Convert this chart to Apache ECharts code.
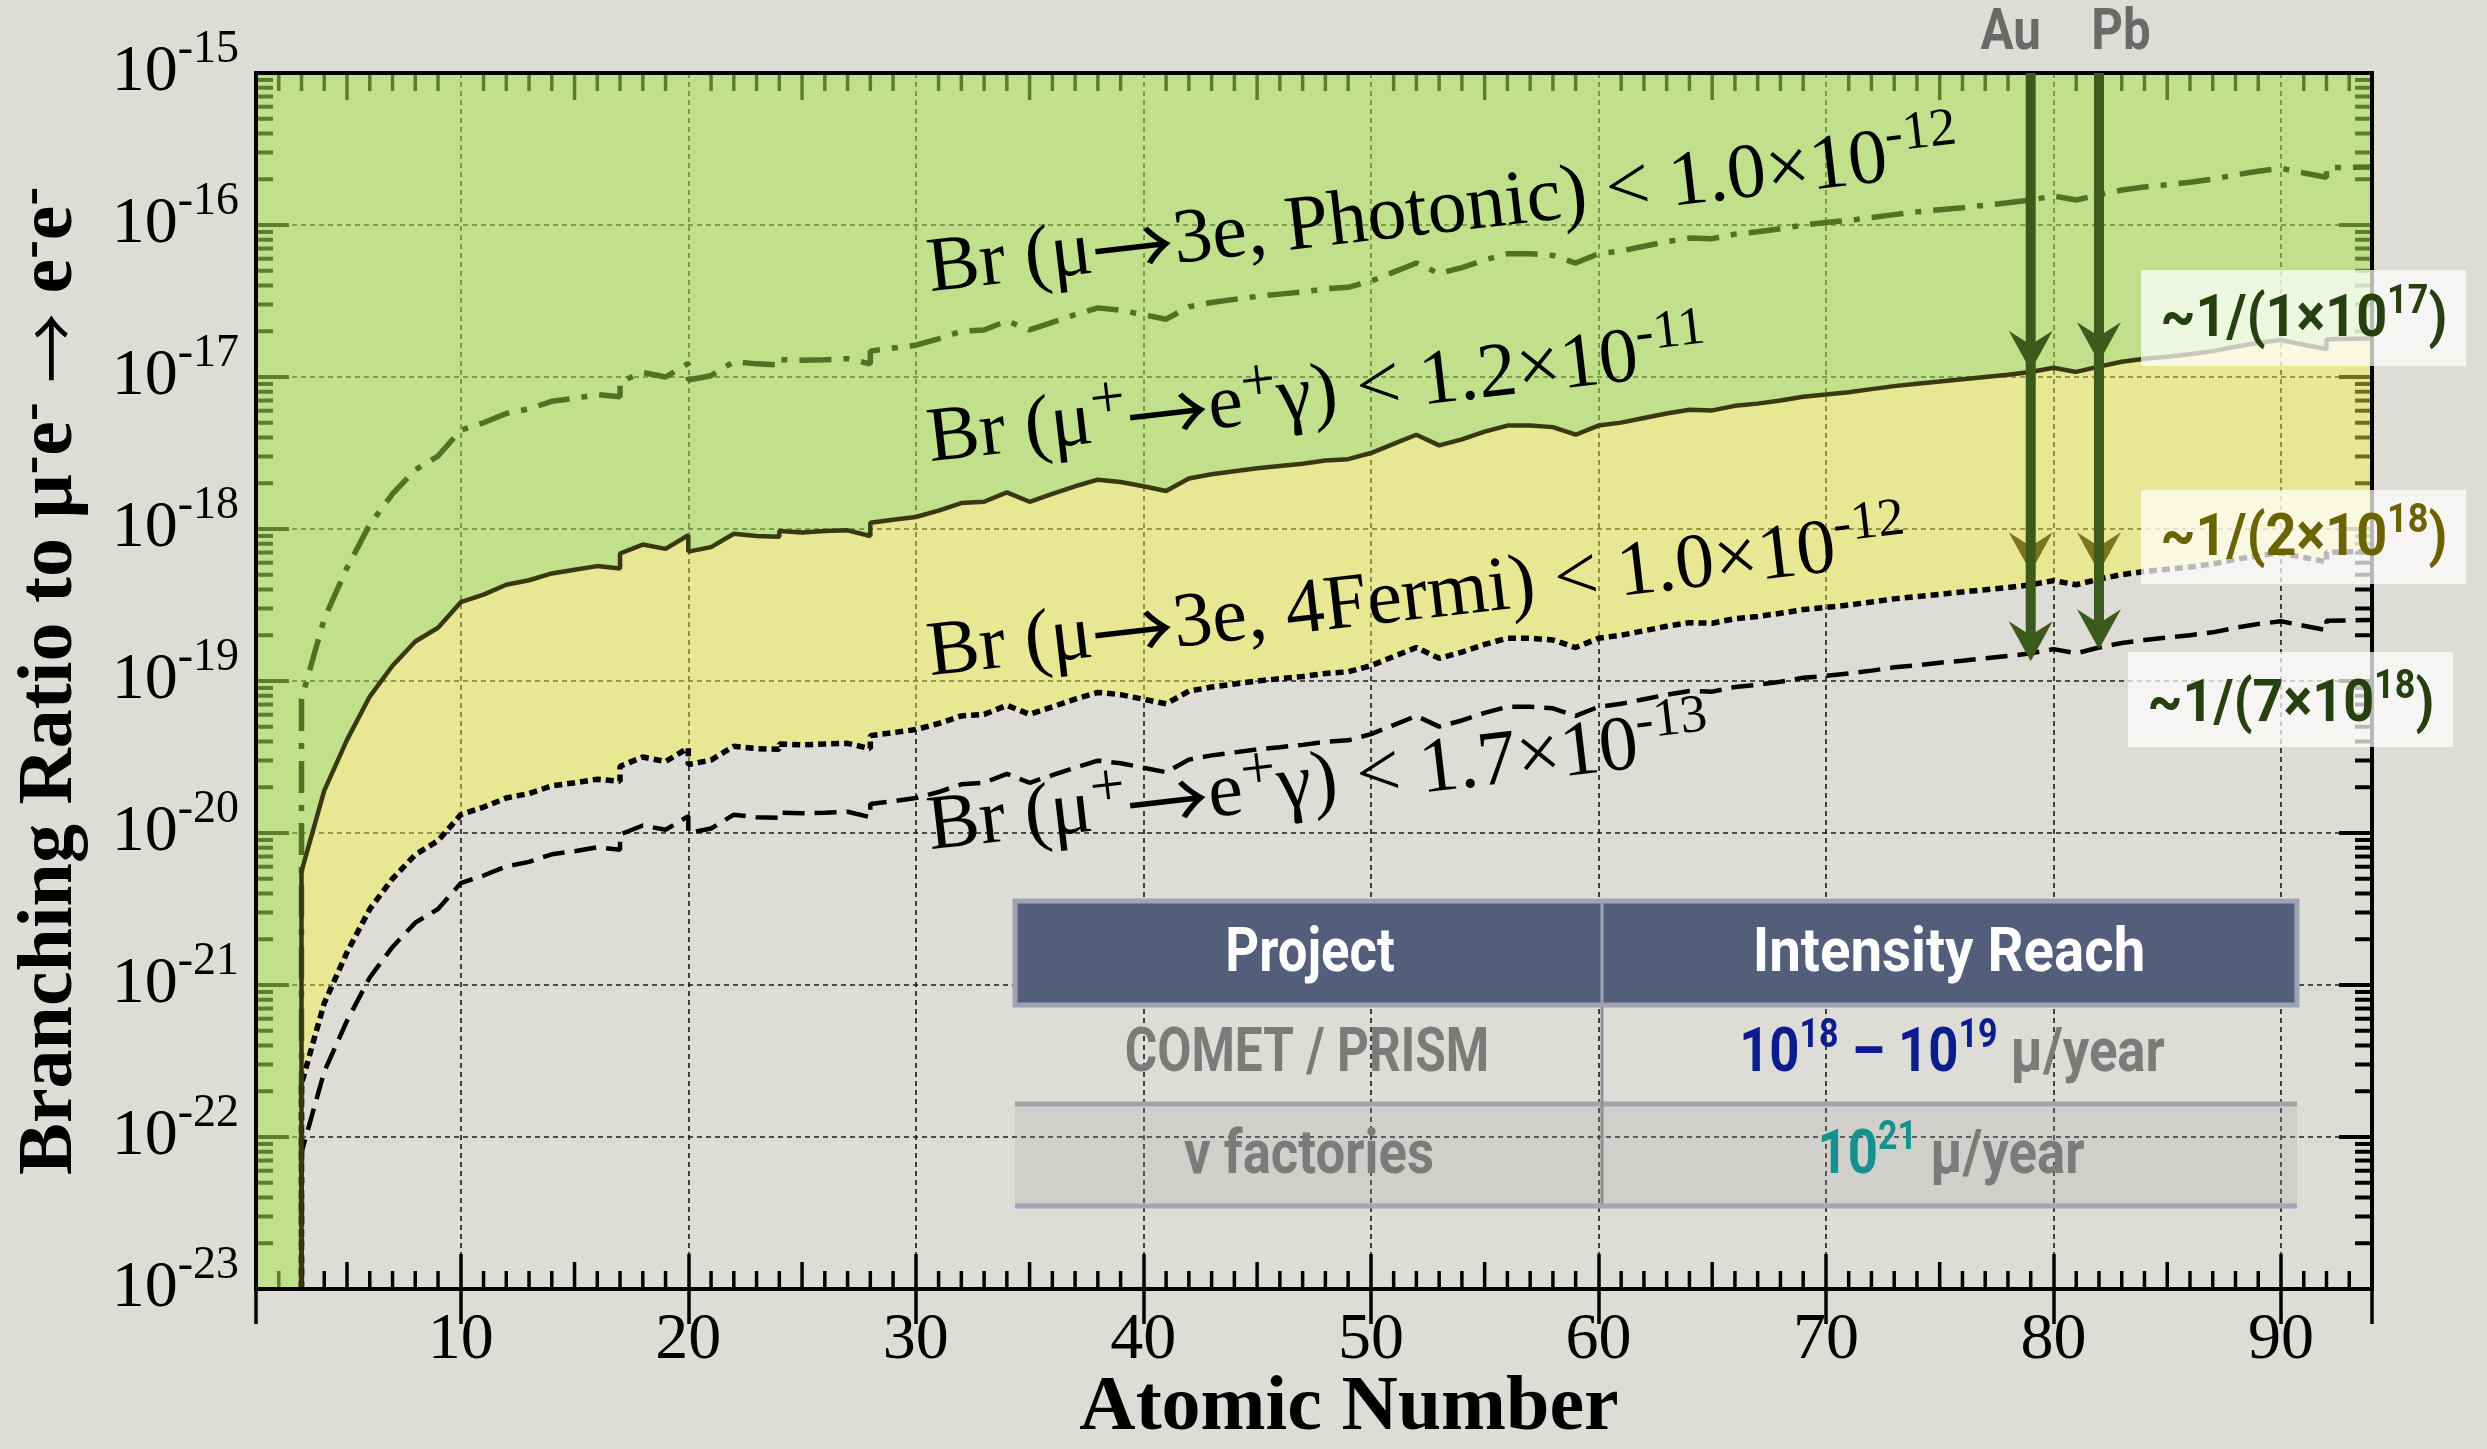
<!DOCTYPE html>
<html>
<head>
<meta charset="utf-8">
<script src="https://cdn.jsdelivr.net/npm/echarts@6/dist/echarts.min.js"></script>
<style>
html, body { margin:0; padding:0; background:#dddcd6; }
#chart { width:2487px; height:1449px; }
</style>
</head>
<body>
<div id="chart"></div>
<script>
// ---------------- data ----------------
const atomicNumber = [
  3, 3, 4, 5, 6, 7, 8, 9, 10,
  11, 12, 13, 14, 15, 16, 17, 17, 18, 19, 20, 20,
  21, 22, 23, 24, 24, 25, 26, 27, 28, 28, 29, 30,
  31, 32, 33, 34, 35, 36, 37, 38, 39, 40,
  41, 42, 43, 44, 45, 46, 47, 48, 49, 50,
  51, 52, 53, 54, 55, 56, 57, 58, 59, 60,
  61, 62, 63, 64, 65, 66, 67, 68, 69, 70,
  71, 72, 73, 74, 75, 76, 77, 78, 79, 80,
  81, 82, 83, 84, 85, 86, 87, 88, 89, 90,
  91, 92, 92, 94
];
// Br(mu+ -> e+ gamma) < 1.2e-11  (solid)
const brMegNow = [
  1e-23, 5.6e-21, 1.9e-20, 4.1e-20, 7.9e-20, 1.26e-19, 1.82e-19, 2.24e-19, 3.3e-19,
  3.7e-19, 4.3e-19, 4.6e-19, 5.1e-19, 5.4e-19, 5.7e-19, 5.5e-19, 6.9e-19, 7.9e-19, 7.4e-19, 9.1e-19, 7.1e-19,
  7.6e-19, 9.3e-19, 9.0e-19, 8.9e-19, 9.7e-19, 9.5e-19, 9.7e-19, 9.8e-19, 9.0e-19, 1.10e-18, 1.15e-18, 1.20e-18,
  1.32e-18, 1.48e-18, 1.51e-18, 1.74e-18, 1.51e-18, 1.70e-18, 1.91e-18, 2.11e-18, 2.04e-18, 1.91e-18,
  1.78e-18, 2.15e-18, 2.29e-18, 2.40e-18, 2.51e-18, 2.60e-18, 2.69e-18, 2.82e-18, 2.88e-18, 3.16e-18,
  3.63e-18, 4.17e-18, 3.55e-18, 3.89e-18, 4.37e-18, 4.79e-18, 4.79e-18, 4.68e-18, 4.17e-18, 4.79e-18,
  5.01e-18, 5.37e-18, 5.75e-18, 6.08e-18, 6.03e-18, 6.46e-18, 6.68e-18, 7.00e-18, 7.41e-18, 7.67e-18,
  7.94e-18, 8.32e-18, 8.71e-18, 9.02e-18, 9.33e-18, 9.66e-18, 1.00e-17, 1.035e-17, 1.08e-17, 1.15e-17,
  1.08e-17, 1.17e-17, 1.26e-17, 1.32e-17, 1.36e-17, 1.41e-17, 1.48e-17, 1.58e-17, 1.68e-17, 1.75e-17,
  1.63e-17, 1.53e-17, 1.77e-17, 1.79e-17
];
// Br(mu -> 3e, Photonic) < 1.0e-12  (dash-dot)
const brPhotonic = [
  1e-23, 7.6e-20, 2.57e-19, 5.56e-19, 1.07e-18, 1.70e-18, 2.45e-18, 3.02e-18, 4.47e-18,
  5.0e-18, 5.75e-18, 6.17e-18, 6.92e-18, 7.24e-18, 7.67e-18, 7.41e-18, 9.33e-18, 1.07e-17, 1.00e-17, 1.23e-17, 9.55e-18,
  1.02e-17, 1.26e-17, 1.22e-17, 1.20e-17, 1.30e-17, 1.29e-17, 1.30e-17, 1.32e-17, 1.22e-17, 1.48e-17, 1.55e-17, 1.62e-17,
  1.78e-17, 2.00e-17, 2.04e-17, 2.34e-17, 2.04e-17, 2.29e-17, 2.57e-17, 2.85e-17, 2.75e-17, 2.57e-17,
  2.40e-17, 2.90e-17, 3.09e-17, 3.24e-17, 3.39e-17, 3.51e-17, 3.63e-17, 3.80e-17, 3.89e-17, 4.27e-17,
  4.90e-17, 5.62e-17, 4.79e-17, 5.25e-17, 5.89e-17, 6.46e-17, 6.46e-17, 6.31e-17, 5.62e-17, 6.46e-17,
  6.76e-17, 7.24e-17, 7.76e-17, 8.20e-17, 8.13e-17, 8.71e-17, 9.02e-17, 9.44e-17, 1.00e-16, 1.04e-16,
  1.07e-16, 1.12e-16, 1.17e-16, 1.22e-16, 1.26e-16, 1.30e-16, 1.35e-16, 1.40e-16, 1.46e-16, 1.55e-16,
  1.46e-16, 1.58e-16, 1.70e-16, 1.78e-16, 1.84e-16, 1.91e-16, 2.00e-16, 2.14e-16, 2.26e-16, 2.36e-16,
  2.20e-16, 2.06e-16, 2.38e-16, 2.41e-16
];
// Br(mu -> 3e, 4Fermi) < 1.0e-12  (dotted)
const brFourFermi = [
  1e-23, 2.24e-22, 7.6e-22, 1.64e-21, 3.16e-21, 5.0e-21, 7.2e-21, 8.9e-21, 1.32e-20,
  1.48e-20, 1.70e-20, 1.82e-20, 2.04e-20, 2.14e-20, 2.26e-20, 2.19e-20, 2.75e-20, 3.16e-20, 2.95e-20, 3.63e-20, 2.82e-20,
  3.02e-20, 3.72e-20, 3.59e-20, 3.55e-20, 3.85e-20, 3.80e-20, 3.85e-20, 3.89e-20, 3.59e-20, 4.37e-20, 4.57e-20, 4.79e-20,
  5.25e-20, 5.89e-20, 6.03e-20, 6.92e-20, 6.03e-20, 6.76e-20, 7.59e-20, 8.41e-20, 8.13e-20, 7.59e-20,
  7.08e-20, 8.57e-20, 9.12e-20, 9.55e-20, 1.00e-19, 1.035e-19, 1.07e-19, 1.12e-19, 1.15e-19, 1.26e-19,
  1.45e-19, 1.66e-19, 1.41e-19, 1.55e-19, 1.74e-19, 1.91e-19, 1.91e-19, 1.86e-19, 1.66e-19, 1.91e-19,
  2.00e-19, 2.14e-19, 2.29e-19, 2.42e-19, 2.40e-19, 2.57e-19, 2.66e-19, 2.79e-19, 2.95e-19, 3.05e-19,
  3.16e-19, 3.31e-19, 3.47e-19, 3.59e-19, 3.72e-19, 3.85e-19, 3.98e-19, 4.12e-19, 4.30e-19, 4.57e-19,
  4.30e-19, 4.68e-19, 5.01e-19, 5.25e-19, 5.43e-19, 5.62e-19, 5.89e-19, 6.31e-19, 6.68e-19, 6.95e-19,
  6.50e-19, 6.08e-19, 7.03e-19, 7.11e-19
];
// Br(mu+ -> e+ gamma) < 1.7e-13  (dashed)
const brMegFuture = [
  1e-23, 7.9e-23, 2.69e-22, 5.82e-22, 1.12e-21, 1.78e-21, 2.57e-21, 3.16e-21, 4.68e-21,
  5.25e-21, 6.03e-21, 6.46e-21, 7.24e-21, 7.59e-21, 8.04e-21, 7.76e-21, 9.77e-21, 1.12e-20, 1.05e-20, 1.29e-20, 1.00e-20,
  1.07e-20, 1.32e-20, 1.27e-20, 1.26e-20, 1.36e-20, 1.35e-20, 1.36e-20, 1.38e-20, 1.27e-20, 1.55e-20, 1.62e-20, 1.70e-20,
  1.86e-20, 2.09e-20, 2.14e-20, 2.45e-20, 2.14e-20, 2.40e-20, 2.69e-20, 2.99e-20, 2.88e-20, 2.69e-20,
  2.51e-20, 3.04e-20, 3.24e-20, 3.39e-20, 3.55e-20, 3.67e-20, 3.80e-20, 3.98e-20, 4.07e-20, 4.47e-20,
  5.13e-20, 5.89e-20, 5.01e-20, 5.50e-20, 6.17e-20, 6.76e-20, 6.76e-20, 6.61e-20, 5.89e-20, 6.76e-20,
  7.08e-20, 7.59e-20, 8.13e-20, 8.59e-20, 8.51e-20, 9.12e-20, 9.44e-20, 9.89e-20, 1.05e-19, 1.08e-19,
  1.12e-19, 1.17e-19, 1.23e-19, 1.27e-19, 1.32e-19, 1.36e-19, 1.41e-19, 1.46e-19, 1.52e-19, 1.62e-19,
  1.52e-19, 1.66e-19, 1.78e-19, 1.86e-19, 1.93e-19, 2.00e-19, 2.09e-19, 2.24e-19, 2.37e-19, 2.47e-19,
  2.31e-19, 2.16e-19, 2.49e-19, 2.52e-19
];

const xTickLabels = [10, 20, 30, 40, 50, 60, 70, 80, 90];
const yTickExponents = [-23, -22, -21, -20, -19, -18, -17, -16, -15];

const arrowLabels = ['Au', 'Pb'];
const arrowZ = [79, 82];
const arrowHeadUpper = [1.1e-17, 1.25e-17];
const arrowHeadMiddle = [5.2e-19, 5.2e-19];
const arrowTip = [1.35e-19, 1.62e-19];

const ratioTexts = ['{m|~1/(1×10}{s|17}{m|)}', '{m|~1/(2×10}{s|18}{m|)}', '{m|~1/(7×10}{s|18}{m|)}'];

const tableHeader = ['Project', 'Intensity Reach'];
const tableProjects = ['COMET / PRISM', 'ν factories'];

// ---------------- chart ----------------
const X_MIN = 1, X_MAX = 94, Y_MIN = 1e-23, Y_MAX = 1e-15;
// axis lower bound a hair below 1e-23 so the 10^-23 tick is a regular (nice) tick
const Y_AXIS_MIN = 0.9999e-23;
const SERIF = "'Liberation Serif', 'Times New Roman', serif";
const ARROWF = "'Noto Sans CJK SC', 'DejaVu Sans', sans-serif";
const SANS = "Roboto, 'Liberation Sans', sans-serif";

const pair = arr => atomicNumber.map((z, i) => [z, arr[i]]);

const xMinorTicks = [];
for (let z = X_MIN + 1; z < X_MAX; z++) if (z % 10 !== 0) xMinorTicks.push(z);
const yMinorTicks = [];
for (let e = -23; e < -15; e++) for (let m = 2; m <= 9; m++) yMinorTicks.push(m * Math.pow(10, e));

const chart = echarts.init(document.getElementById('chart'), null, {renderer: 'canvas'});

const gridLine = {show: true, lineStyle: {color: '#1a1a1a', width: 1.6, type: [5, 4]}};

const yLabelFormatter = v => {
  const l = Math.log10(v);
  const e = Math.round(l);
  return (Math.abs(l - e) < 1e-6 && yTickExponents.includes(e)) ? '{b|10}{s|' + e + '}' : '';
};

const option = {
  animation: false,
  backgroundColor: 'transparent',
  textStyle: {fontFamily: SERIF},
  grid: {left: 256, top: 73, width: 2116, height: 1216, containLabel: false, outerBoundsMode: 'none'},
  xAxis: [
    {
      type: 'value', min: X_MIN, max: X_MAX, minInterval: 10, maxInterval: 10,
      position: 'bottom',
      axisLine: {show: false},
      axisTick: {show: true, inside: true, length: 35, lineStyle: {color: '#000', width: 3.5}},
      axisLabel: {
        show: true, margin: 19, color: '#000', fontFamily: SERIF, fontSize: 66,
        showMinLabel: false, showMaxLabel: false,
        formatter: v => xTickLabels.includes(v) ? String(v) : ''
      },
      splitLine: gridLine,
      name: 'Atomic Number', nameLocation: 'middle', nameGap: 81, nameMoveOverlap: false,
      nameTextStyle: {fontFamily: SERIF, fontSize: 78, fontWeight: 'bold', color: '#000', padding: [0, 0, 0, 70]}
    },
    {
      type: 'value', min: X_MIN, max: X_MAX, minInterval: 10, maxInterval: 10,
      position: 'top',
      axisLine: {show: false},
      axisTick: {show: true, inside: true, length: 35, lineStyle: {color: '#000', width: 3.5}},
      axisLabel: {show: false},
      splitLine: {show: false}
    }
  ],
  yAxis: [
    {
      type: 'log', min: Y_AXIS_MIN, max: Y_MAX, logBase: 10, splitNumber: 8,
      position: 'left',
      axisLine: {show: false},
      axisTick: {show: true, inside: true, length: 33, lineStyle: {color: '#000', width: 4}},
      axisLabel: {
        show: true, margin: 17, showMinLabel: true, showMaxLabel: true, hideOverlap: false,
        formatter: yLabelFormatter,
        rich: {
          b: {fontFamily: SERIF, fontSize: 66, lineHeight: 92, color: '#000'},
          s: {fontFamily: SERIF, fontSize: 46, lineHeight: 62, verticalAlign: 'top', color: '#000'}
        }
      },
      splitLine: gridLine,
      name: '{t|Branching Ratio to μ}{s|-}{t|e}{s|-}{t| }{a|→}{t| e}{s|-}{t|e}{s|-}',
      nameLocation: 'middle', nameRotate: 90, nameGap: 160, nameMoveOverlap: false,
      nameTextStyle: {
        rich: {
          t: {fontFamily: SERIF, fontSize: 78, fontWeight: 'bold', lineHeight: 90, color: '#000'},
          a: {fontFamily: ARROWF, fontSize: 70, lineHeight: 90, color: '#000'},
          s: {fontFamily: SERIF, fontSize: 56, fontWeight: 'bold', lineHeight: 30, verticalAlign: 'top', color: '#000'}
        }
      }
    },
    {
      type: 'log', min: Y_AXIS_MIN, max: Y_MAX, logBase: 10, splitNumber: 8,
      position: 'right',
      axisLine: {show: false},
      axisTick: {show: true, inside: true, length: 33, lineStyle: {color: '#000', width: 4}},
      axisLabel: {show: false},
      splitLine: {show: false}
    }
  ],
  series: [
    // minor ticks on x (bottom + top)
    {
      type: 'custom', z: 1, silent: true,
      data: xMinorTicks.map(z => [z, Y_MIN]),
      renderItem: (params, api) => {
        const z = api.value(0);
        const len = z % 5 === 0 ? 27 : 18;
        const b = api.coord([z, Y_MIN]);
        const t = api.coord([z, Y_MAX]);
        return {type: 'group', children: [
          {type: 'line', shape: {x1: b[0], y1: b[1], x2: b[0], y2: b[1] - len}, style: {stroke: '#000', lineWidth: 3.5}},
          {type: 'line', shape: {x1: t[0], y1: t[1], x2: t[0], y2: t[1] + len}, style: {stroke: '#000', lineWidth: 3.5}}
        ]};
      }
    },
    // minor ticks on y (left + right)
    {
      type: 'custom', z: 1, silent: true,
      data: yMinorTicks.map(v => [X_MIN, v]),
      renderItem: (params, api) => {
        const v = api.value(1);
        const l = api.coord([X_MIN, v]);
        const r = api.coord([X_MAX, v]);
        return {type: 'group', children: [
          {type: 'line', shape: {x1: l[0], y1: l[1], x2: l[0] + 17, y2: l[1]}, style: {stroke: '#000', lineWidth: 4}},
          {type: 'line', shape: {x1: r[0], y1: r[1], x2: r[0] - 17, y2: r[1]}, style: {stroke: '#000', lineWidth: 4}}
        ]};
      }
    },
    // green region (above current mu->e gamma bound)
    {
      type: 'custom', z: 2, silent: true,
      data: [[X_MIN, Y_MAX]],
      renderItem: (params, api) => {
        const pts = [api.coord([X_MIN, Y_MAX]), api.coord([X_MAX, Y_MAX])];
        for (let i = atomicNumber.length - 1; i >= 0; i--) pts.push(api.coord([atomicNumber[i], brMegNow[i]]));
        pts.push(api.coord([X_MIN, Y_MIN]));
        return {type: 'polygon', shape: {points: pts}, style: {fill: 'rgba(167,227,80,0.55)'}};
      }
    },
    // yellow region (between mu->e gamma and 4Fermi)
    {
      type: 'custom', z: 2, silent: true,
      data: [[X_MIN, Y_MAX]],
      renderItem: (params, api) => {
        const pts = [];
        for (let i = 0; i < atomicNumber.length; i++) pts.push(api.coord([atomicNumber[i], brMegNow[i]]));
        for (let i = atomicNumber.length - 1; i >= 0; i--) pts.push(api.coord([atomicNumber[i], brFourFermi[i]]));
        return {type: 'polygon', shape: {points: pts}, style: {fill: 'rgba(247,247,69,0.45)'}};
      }
    },
    {
      name: 'Br(μ→3e, Photonic) < 1.0×10-12', type: 'line', z: 3, silent: true,
      data: pair(brPhotonic), showSymbol: false, symbol: 'none',
      lineStyle: {color: '#4f7224', width: 5.5, type: [32, 12, 6, 12], cap: 'butt'}
    },
    {
      name: 'Br(μ→3e, 4Fermi) < 1.0×10-12', type: 'line', z: 3, silent: true,
      data: pair(brFourFermi), showSymbol: false, symbol: 'none',
      lineStyle: {color: '#000', width: 5.5, type: [8, 5], cap: 'butt'}
    },
    {
      name: 'Br(μ+→e+γ) < 1.7×10-13', type: 'line', z: 3, silent: true,
      data: pair(brMegFuture), showSymbol: false, symbol: 'none',
      lineStyle: {color: '#000', width: 4.5, type: [22, 10], cap: 'butt'}
    },
    {
      name: 'Br(μ+→e+γ) < 1.2×10-11', type: 'line', z: 3, silent: true,
      data: pair(brMegNow), showSymbol: false, symbol: 'none',
      lineStyle: {color: '#3a3810', width: 4.5}
    },
    // frame
    {
      type: 'custom', z: 4, silent: true,
      data: [[X_MIN, Y_MAX]],
      renderItem: (params, api) => {
        const a = api.coord([X_MIN, Y_MAX]);
        const b = api.coord([X_MAX, Y_MIN]);
        return {type: 'rect', shape: {x: a[0], y: a[1], width: b[0] - a[0], height: b[1] - a[1]},
          style: {fill: 'rgba(0,0,0,0)', stroke: '#000', lineWidth: 4}};
      }
    },
    // Au / Pb arrows
    {
      type: 'custom', z: 5, silent: true,
      data: arrowZ.map((z, i) => [z, arrowTip[i], arrowHeadUpper[i], arrowHeadMiddle[i], i]),
      renderItem: (params, api) => {
        const z = api.value(0);
        const i = api.value(4);
        const top = api.coord([z, Y_MAX]);
        const tip = api.coord([z, api.value(1)]);
        const up = api.coord([z, api.value(2)]);
        const mid = api.coord([z, api.value(3)]);
        const head = (p, color) => ({type: 'polygon', shape: {points: [
          [p[0], p[1]], [p[0] - 22, p[1] - 40], [p[0], p[1] - 26], [p[0] + 22, p[1] - 40]]}, style: {fill: color}});
        const dx = i === 0 ? -20 : 22;
        return {type: 'group', children: [
          head(mid, 'rgba(112,104,14,0.9)'),
          {type: 'line', shape: {x1: top[0], y1: top[1], x2: tip[0], y2: tip[1] - 18}, style: {stroke: '#3c5a1c', lineWidth: 10}},
          head(up, '#3c5a1c'),
          head(tip, '#3c5a1c'),
          {type: 'text', x: top[0] + dx, y: top[1] - 39, scaleX: 0.85,
            style: {text: arrowLabels[i], fontFamily: SANS, fontWeight: 'bold', fontSize: 58, fill: '#6a6a6a', align: 'center', verticalAlign: 'middle'}}
        ]};
      }
    }
  ],
  graphic: {elements: []}
};

// curve labels (graphic text: rich tokens use "fill")
const curveRich = {
  m: {fontFamily: SERIF, fontSize: 78, lineHeight: 100, fill: '#000'},
  a: {fontFamily: ARROWF, fontSize: 82, lineHeight: 100, fill: '#000'},
  p: {fontFamily: SERIF, fontSize: 62, lineHeight: 56, verticalAlign: 'top', fill: '#000'},
  s: {fontFamily: SERIF, fontSize: 54, lineHeight: 58, verticalAlign: 'top', fill: '#000'}
};
const curveLabels = [
  {text: '{m|Br (μ}{a|→}{m|3e, Photonic) < 1.0×10}{s|-12}', x: 928, y: 271},
  {text: '{m|Br (μ}{p|+}{a|→}{m|e}{p|+}{m|γ) < 1.2×10}{s|-11}', x: 928, y: 441},
  {text: '{m|Br (μ}{a|→}{m|3e, 4Fermi) < 1.0×10}{s|-12}', x: 928, y: 655},
  {text: '{m|Br (μ}{p|+}{a|→}{m|e}{p|+}{m|γ) < 1.7×10}{s|-13}', x: 928, y: 829}
];
curveLabels.forEach(c => option.graphic.elements.push({
  type: 'text', x: c.x, y: c.y, rotation: 0.115, z: 20, silent: true,
  style: {text: c.text, rich: curveRich, align: 'left', verticalAlign: 'middle'}
}));

// ratio boxes
const ratioBoxes = [
  {x: 2141, y: 270, w: 325, h: 96, cx: 2304, cy: 321, color: '#27400f'},
  {x: 2141, y: 490, w: 325, h: 94, cx: 2304, cy: 540, color: '#6b6200'},
  {x: 2128, y: 652, w: 325, h: 95, cx: 2291, cy: 706, color: '#27400f'}
];
ratioBoxes.forEach((b, i) => {
  option.graphic.elements.push({type: 'rect', z: 40, silent: true,
    shape: {x: b.x, y: b.y, width: b.w, height: b.h}, style: {fill: 'rgba(255,255,255,0.72)'}});
  option.graphic.elements.push({type: 'text', z: 41, silent: true, x: b.cx, y: b.cy, scaleX: 0.9,
    style: {text: ratioTexts[i], align: 'center', verticalAlign: 'middle',
      rich: {
        m: {fontFamily: SANS, fontWeight: 'bold', fontSize: 60, lineHeight: 76, fill: b.color},
        s: {fontFamily: SANS, fontWeight: 'bold', fontSize: 40, lineHeight: 42, verticalAlign: 'top', fill: b.color}
      }}});
});

// table
const T = {x: 1015, w: 1282, col: 1602, hTop: 901, hBot: 1005, r1: 1104, r2: 1206};
const tblFont = {fontFamily: SANS, fontWeight: 'bold', fontSize: 62};
option.graphic.elements.push(
  {type: 'rect', z: 30, silent: true, shape: {x: T.x, y: T.hTop, width: T.w, height: T.hBot - T.hTop},
    style: {fill: '#535e7a', stroke: '#9ea3b4', lineWidth: 5}},
  {type: 'line', z: 31, silent: true, shape: {x1: T.col, y1: T.hTop + 2, x2: T.col, y2: T.hBot - 2}, style: {stroke: '#9ea3b4', lineWidth: 3}},
  {type: 'rect', z: 30, silent: true, shape: {x: T.x, y: T.r1, width: T.w, height: T.r2 - T.r1},
    style: {fill: 'rgba(165,165,165,0.22)'}},
  {type: 'line', z: 31, silent: true, shape: {x1: T.x, y1: T.r1, x2: T.x + T.w, y2: T.r1}, style: {stroke: '#a3a3ab', lineWidth: 5}},
  {type: 'line', z: 31, silent: true, shape: {x1: T.x, y1: T.r2, x2: T.x + T.w, y2: T.r2}, style: {stroke: '#a2a6b8', lineWidth: 5}},
  {type: 'line', z: 31, silent: true, shape: {x1: T.col, y1: T.hBot + 2, x2: T.col, y2: T.r2 - 2}, style: {stroke: '#909095', lineWidth: 3}}
);
const cellText = (text, x, y, fill, rich, sx) => ({
  type: 'text', z: 32, silent: true, x: x, y: y, scaleX: sx || 0.85,
  style: Object.assign({text: text, fill: fill, align: 'center', verticalAlign: 'middle', rich: rich}, tblFont)
});
const reachRich = {
  b: Object.assign({fill: '#0c1c8c', lineHeight: 76}, tblFont),
  bs: {fontFamily: SANS, fontWeight: 'bold', fontSize: 40, lineHeight: 42, verticalAlign: 'top', fill: '#0c1c8c'},
  t: Object.assign({fill: '#15918f', lineHeight: 76}, tblFont),
  ts: {fontFamily: SANS, fontWeight: 'bold', fontSize: 40, lineHeight: 42, verticalAlign: 'top', fill: '#15918f'},
  g: Object.assign({fill: '#7b7b7b', lineHeight: 76}, tblFont)
};
option.graphic.elements.push(
  cellText(tableHeader[0], 1310, 955, '#ffffff'),
  cellText(tableHeader[1], 1949, 955, '#ffffff', undefined, 0.91),
  cellText(tableProjects[0], 1307, 1055, '#7b7b7b', undefined, 0.8),
  cellText('{b|10}{bs|18}{b| – 10}{bs|19}{g| μ/year}', 1952, 1055, '#7b7b7b', reachRich),
  cellText(tableProjects[1], 1309, 1157, '#7b7b7b'),
  cellText('{t|10}{ts|21}{g| μ/year}', 1951, 1157, '#7b7b7b', reachRich)
);

chart.setOption(option);
</script>
</body>
</html>
